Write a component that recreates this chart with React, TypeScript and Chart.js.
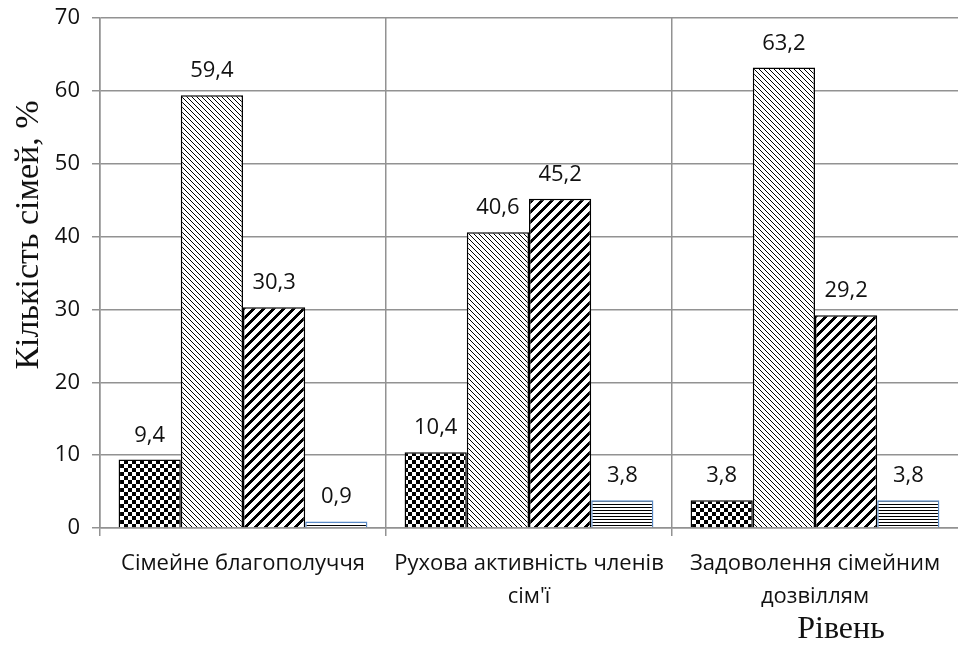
import { useEffect, useRef } from 'react';
import { Chart, registerables } from 'chart.js';

Chart.register(...registerables);

const categories: string[][] = [
  ['Сімейне благополуччя'],
  ['Рухова активність членів', "сім'ї"],
  ['Задоволення сімейним', 'дозвіллям'],
];
const seriesA = [9.4, 10.4, 3.8];
const seriesB = [59.4, 40.6, 63.2];
const seriesC = [30.3, 45.2, 29.2];
const seriesD = [0.9, 3.8, 3.8];
const yMin = 0;
const yMax = 70;
const yStep = 10;
const yTitle = 'Кількість сімей, %';
const xTitle = 'Рівень';

const GRID = '#929292';
const TICK_FONT = '"Open Sans"';

function makePattern(size: number, isBlack: (x: number, y: number) => boolean): CanvasPattern {
  const c = document.createElement('canvas');
  c.width = size;
  c.height = size;
  const g = c.getContext('2d')!;
  const img = g.createImageData(size, size);
  for (let y = 0; y < size; y++) {
    for (let x = 0; x < size; x++) {
      const i = (y * size + x) * 4;
      const v = isBlack(x, y) ? 0 : 255;
      img.data[i] = v;
      img.data[i + 1] = v;
      img.data[i + 2] = v;
      img.data[i + 3] = 255;
    }
  }
  g.putImageData(img, 0, 0);
  return g.createPattern(c, 'repeat')!;
}

const valueLabels = {
  id: 'valueLabels',
  afterDatasetsDraw(chart: any) {
    const ctx = chart.ctx;
    ctx.save();
    ctx.font = `22px ${TICK_FONT}`;
    ctx.fillStyle = '#111';
    ctx.textAlign = 'center';
    ctx.textBaseline = 'alphabetic';
    chart.data.datasets.forEach((ds: any, i: number) => {
      const meta = chart.getDatasetMeta(i);
      meta.data.forEach((el: any, j: number) => {
        const v = ds.data[j] as number;
        ctx.fillText(v.toFixed(1).replace('.', ','), el.x, el.y - 18);
      });
    });
    ctx.restore();
  },
  afterDraw(chart: any) {
    const ctx = chart.ctx;
    const area = chart.chartArea;
    ctx.save();
    ctx.fillStyle = '#111';
    ctx.textAlign = 'center';
    ctx.textBaseline = 'alphabetic';
    ctx.font = '32px "Liberation Serif"';
    ctx.fillText(xTitle, chart.width - 117, chart.height - 15);
    ctx.translate(area.left - 71, area.top + 217);
    ctx.rotate(-Math.PI / 2);
    ctx.font = '34px "Liberation Serif"';
    ctx.textBaseline = 'middle';
    ctx.fillText(yTitle, 0, 0);
    ctx.restore();
  },
};

export default function App() {
  const ref = useRef<HTMLCanvasElement>(null);

  useEffect(() => {
    const canvas = ref.current;
    if (!canvas) return;
    const checker = makePattern(8, (x, y) => (((x >> 2) + (y >> 2)) % 2) === 0);
    const thinDiag = makePattern(5, (x, y) => ((x - y + 50) % 5) === 0);
    const thickDiag = makePattern(10, (x, y) => ((x + y) % 10) < 4);
    const hLines = makePattern(3, (_x, y) => y % 3 === 0);

    const chart = new Chart(canvas, {
      type: 'bar',
      data: {
        labels: categories as any,
        datasets: [
          { label: 'Ряд 1', data: seriesA, backgroundColor: checker, borderColor: '#000', borderWidth: 1.5 },
          { label: 'Ряд 2', data: seriesB, backgroundColor: thinDiag, borderColor: '#000', borderWidth: 1.5 },
          { label: 'Ряд 3', data: seriesC, backgroundColor: thickDiag, borderColor: '#000', borderWidth: 1.5 },
          { label: 'Ряд 4', data: seriesD, backgroundColor: hLines, borderColor: '#5a8ac6', borderWidth: 1.5 },
        ],
      },
      options: {
        animation: false,
        responsive: true,
        maintainAspectRatio: false,
        layout: { padding: { top: 18, right: 0, bottom: 0, left: 0 } },
        datasets: { bar: { categoryPercentage: 0.87, barPercentage: 1.0 } },
        plugins: {
          legend: { display: false },
          tooltip: { enabled: false },
        },
        scales: {
          x: {
            offset: true,
            grid: {
              display: true,
              offset: true,
              color: (c: any) => (c.index === undefined ? 'rgba(0,0,0,0)' : GRID),
              lineWidth: 1.5,
              tickLength: 8,
              drawTicks: true,
            },
            border: { display: true, color: GRID, width: 1.5 },
            ticks: {
              color: '#111',
              font: { family: TICK_FONT, size: 22, lineHeight: '33px' as any },
              padding: 11,
              maxRotation: 0,
              autoSkip: false,
            },
            afterFit: (scale: any) => {
              scale.height = 125;
              scale.paddingLeft = 0;
              scale.paddingRight = 0;
            },
          },
          y: {
            min: yMin,
            max: yMax,
            ticks: {
              stepSize: yStep,
              color: '#111',
              font: { family: TICK_FONT, size: 22 },
              padding: 12,
            },
            grid: { color: GRID, lineWidth: 1.5, tickLength: 8 },
            border: { display: true, color: GRID, width: 1.5 },
            afterFit: (scale: any) => {
              scale.width = 100;
              scale.paddingTop = 0;
              scale.paddingBottom = 0;
            },
          },
        },
      },
      plugins: [valueLabels],
    });
    return () => chart.destroy();
  }, []);

  return (
    <div style={{ position: 'absolute', left: 0, top: 0, width: 958, height: 653, background: '#fff' }}>
      <canvas ref={ref} />
    </div>
  );
}
